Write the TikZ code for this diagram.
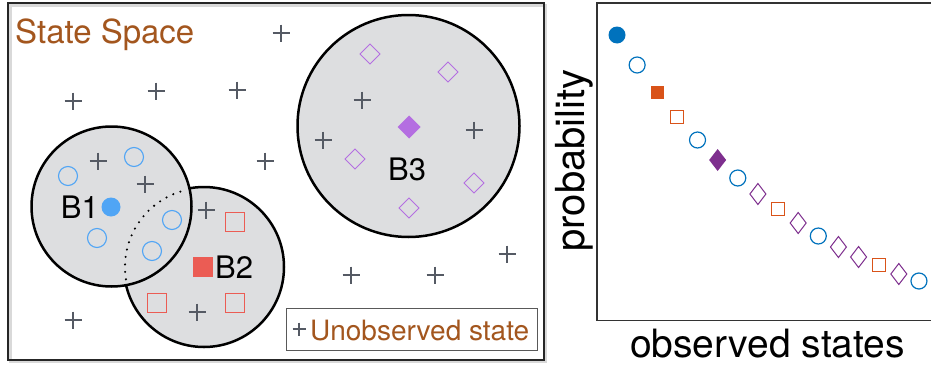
\documentclass[tikz,border=0pt]{standalone}
\usepackage{fontspec}
\setmainfont{TeX Gyre Heros}
\definecolor{brownt}{RGB}{163,86,30}
\definecolor{plusc}{RGB}{85,90,100}
\definecolor{ballfill}{RGB}{221,222,224}
\definecolor{lblue}{RGB}{80,165,245}
\definecolor{lred}{RGB}{235,92,84}
\definecolor{lpurp}{RGB}{180,110,225}
\definecolor{mblue}{RGB}{0,114,189}
\definecolor{morange}{RGB}{217,83,25}
\definecolor{mpurp}{RGB}{126,47,142}
\tikzset{
  ball/.style={draw=black, fill=ballfill, line width=2.5pt},
  pplus/.pic={\draw[plusc,line width=1.5pt] (-8.5,0)--(8.5,0) (0,-8.5)--(0,8.5);},
  smallplus/.pic={\draw[plusc,line width=1.1pt] (-6.5,0)--(6.5,0) (0,-6.5)--(0,6.5);},
  bocirc/.pic={\draw[lblue,line width=1.1pt] (0,0) circle[radius=9.5];},
  rosq/.pic={\draw[lred,line width=1.1pt] (-9.5,-9.5) rectangle (9.5,9.5);},
  podia/.pic={\draw[lpurp,line width=1pt] (0,-10)--(10,0)--(0,10)--(-10,0)--cycle;},
  mfcirc/.pic={\fill[mblue] (0,0) circle[radius=8.5];},
  mocirc/.pic={\draw[mblue,line width=1.2pt] (0,0) circle[radius=8];},
  mfsq/.pic={\fill[morange] (-6.5,-6.5) rectangle (6.5,6.5);},
  mosq/.pic={\draw[morange,line width=1.1pt] (-6.5,-6.5) rectangle (6.5,6.5);},
  mfdia/.pic={\fill[mpurp] (0,-11)--(8.5,0)--(0,11)--(-8.5,0)--cycle;},
  modia/.pic={\draw[mpurp,line width=1pt] (0,-10.5)--(8,0)--(0,10.5)--(-8,0)--cycle;},
  lbl/.style={inner sep=0pt, font=\fontsize{31}{34}\selectfont},
}
\begin{document}
\begin{tikzpicture}[x=1pt,y=-1pt]
\useasboundingbox (0,0) rectangle (931,367);
\fill[white] (0,0) rectangle (931,367);
% left panel frame with faint shadow
\draw[black!15, line width=2.5pt] (10.5,5.5) rectangle (546,362);
\draw[black!85, line width=2pt] (8,3) rectangle (543.5,359.5);
\node[inner sep=0pt, anchor=base west, text=brownt, font=\fontsize{33}{36}\selectfont] (title) at (15,43) {State Space};
% balls
\node[ball, circle, minimum size=222pt, inner sep=0pt] (B3) at (408.5,126) {};
\node[ball, circle, minimum size=160pt, inner sep=0pt] (B2) at (204,267) {};
\node[ball, circle, minimum size=160pt, inner sep=0pt] (B1) at (111.5,206.5) {};
\draw[line width=2.3pt, line cap=round, dash pattern=on 0pt off 7.5pt]
  ([shift={(171:79)}]B2.center) arc[start angle=171, end angle=256, radius=79];
% unobserved states
\foreach \x/\y in {281/33,73/101,156/91,237/90,265/161,98/161,145/184,206/210,197/312,73/320,362/100,323/140,474/130,507/254,351/275,435/275}
  \pic at (\x,\y) {pplus};
% B1 members
\foreach \x/\y in {68/176,134/157,172/220,97/238,152/251}
  \pic at (\x,\y) {bocirc};
\fill[lblue] (111,207) circle[radius=9.5];
\node[lbl, anchor=base east] (b1) at (99,218) {B1};
% B2 members
\foreach \x/\y in {235/222,157/303,235/303}
  \pic at (\x,\y) {rosq};
\fill[lred] (193,257) rectangle (213,277);
\node[lbl, anchor=base west] (b2) at (215,278) {B2};
% B3 members
\foreach \x/\y in {370/54,448/72,355/159,474/183,409/208}
  \pic at (\x,\y) {podia};
\fill[lpurp] (409,115.5)--(420.5,127)--(409,138.5)--(397.5,127)--cycle;
\node[lbl, anchor=base west] (b3) at (388,180) {B3};
% legend
\draw[black!65, line width=1pt] (286,308) rectangle (537,350);
\pic at (299,329) {smallplus};
\node[inner sep=0pt, anchor=base west, text=brownt, font=\fontsize{28}{30}\selectfont] (leg) at (310,340) {Unobserved state};
% right panel: plot
\draw[black!80, line width=1.5pt] (932,3) -- (597,3) -- (597,320.5) -- (932,320.5);
\node[inner sep=0pt, rotate=90, anchor=base, font=\fontsize{40}{44}\selectfont] (ylab) at (584,160.5) {probability};
\node[inner sep=0pt, anchor=base, font=\fontsize{39}{42}\selectfont] (xlab) at (767.5,357) {observed states};
\foreach \i/\y/\m in {0/35/mfcirc,1/65/mocirc,2/92/mfsq,3/117/mosq,4/140/mocirc,5/160/mfdia,6/178/mocirc,7/194/modia,8/209/mosq,9/223/modia,10/236/mocirc,11/247/modia,12/257/modia,13/265/mosq,14/274/modia,15/281/mocirc}
  \pic at ({617+20.13*\i},\y) {\m};
\end{tikzpicture}
\end{document}
